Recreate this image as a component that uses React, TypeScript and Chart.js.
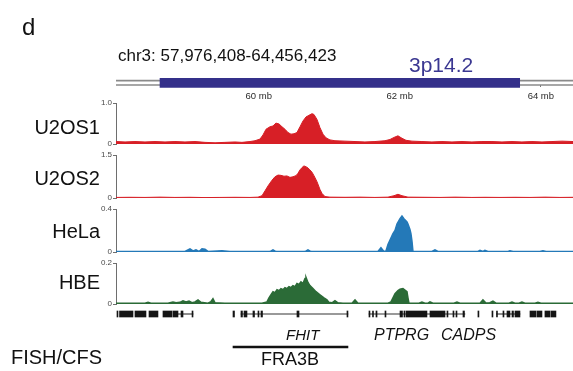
import React, { useEffect, useRef } from "react";
import { Chart, registerables } from "chart.js";

Chart.register(...registerables);

// ---------------- data (chr3, Mb) ----------------
const viewRange = [57.976, 64.456];
const bandRange = [58.6, 63.7]; // 3p14.2
const rulerTicks = [60, 62, 64];
const trackNames = ["U2OS1", "U2OS2", "HeLa", "HBE"];
const trackMax = [1.0, 1.5, 0.4, 0.2];

const u2os1Mb = [57.976, 58.104, 58.245, 58.387, 58.529, 58.671, 58.812, 58.954, 59.096, 59.238, 59.38, 59.521, 59.663, 59.762, 59.876, 59.947, 60.018, 60.06, 60.103, 60.159, 60.202, 60.244, 60.287, 60.33, 60.372, 60.415, 60.457, 60.5, 60.542, 60.585, 60.627, 60.67, 60.712, 60.755, 60.783, 60.826, 60.868, 60.911, 60.954, 61.01, 61.081, 61.223, 61.365, 61.506, 61.648, 61.79, 61.861, 61.917, 61.974, 62.031, 62.088, 62.173, 62.314, 62.456, 62.598, 62.74, 62.882, 63.023, 63.165, 63.307, 63.449, 63.591, 63.732, 63.874, 64.016, 64.158, 64.299, 64.456];
const u2os1Val = [0.06, 0.05, 0.06, 0.05, 0.06, 0.05, 0.06, 0.05, 0.06, 0.04, 0.03, 0.04, 0.05, 0.04, 0.06, 0.08, 0.12, 0.22, 0.36, 0.42, 0.44, 0.51, 0.49, 0.42, 0.36, 0.28, 0.24, 0.25, 0.28, 0.42, 0.56, 0.66, 0.7, 0.74, 0.72, 0.6, 0.4, 0.24, 0.15, 0.1, 0.08, 0.07, 0.06, 0.05, 0.06, 0.08, 0.11, 0.16, 0.2, 0.14, 0.09, 0.07, 0.06, 0.05, 0.06, 0.05, 0.06, 0.05, 0.06, 0.06, 0.05, 0.06, 0.05, 0.06, 0.05, 0.06, 0.07, 0.06];

const u2os2Mb = [57.976, 58.174, 58.387, 58.6, 58.812, 59.025, 59.238, 59.45, 59.663, 59.876, 59.989, 60.046, 60.089, 60.131, 60.188, 60.23, 60.273, 60.315, 60.358, 60.4, 60.443, 60.485, 60.528, 60.556, 60.585, 60.613, 60.641, 60.67, 60.698, 60.726, 60.755, 60.783, 60.826, 60.868, 60.897, 60.939, 61.01, 61.223, 61.436, 61.648, 61.832, 61.917, 61.974, 62.031, 62.116, 62.357, 62.57, 62.782, 63.023, 63.208, 63.421, 63.633, 63.846, 64.058, 64.271, 64.456];
const u2os2Val = [0.02, 0.025, 0.02, 0.03, 0.02, 0.025, 0.015, 0.02, 0.025, 0.02, 0.03, 0.08, 0.25, 0.42, 0.62, 0.74, 0.8, 0.79, 0.76, 0.77, 0.72, 0.74, 0.78, 0.86, 0.98, 1.06, 1.12, 1.09, 1.05, 0.98, 0.9, 0.78, 0.57, 0.3, 0.16, 0.05, 0.03, 0.025, 0.03, 0.02, 0.03, 0.08, 0.13, 0.08, 0.03, 0.025, 0.02, 0.03, 0.02, 0.025, 0.02, 0.025, 0.02, 0.03, 0.02, 0.025];

const helaMb = [57.976, 58.954, 59.025, 59.068, 59.11, 59.153, 59.195, 59.238, 59.28, 59.479, 59.592, 60.159, 60.202, 60.244, 60.656, 60.698, 60.741, 61.69, 61.733, 61.775, 61.804, 61.832, 61.861, 61.903, 61.932, 61.96, 62.003, 62.031, 62.059, 62.073, 62.102, 62.116, 62.144, 62.158, 62.173, 62.187, 62.456, 62.499, 62.541, 63.108, 63.137, 63.179, 63.207, 63.25, 63.534, 63.562, 63.605, 63.988, 64.03, 64.073, 64.456];
const helaVal = [0.005, 0.005, 0.03, 0.01, 0.02, 0.005, 0.03, 0.025, 0.005, 0.012, 0.004, 0.004, 0.02, 0.004, 0.004, 0.02, 0.004, 0.005, 0.04, 0.005, 0.01, 0.07, 0.11, 0.17, 0.2, 0.26, 0.31, 0.335, 0.31, 0.3, 0.28, 0.26, 0.21, 0.17, 0.1, 0.005, 0.005, 0.02, 0.005, 0.005, 0.015, 0.005, 0.015, 0.005, 0.005, 0.012, 0.005, 0.005, 0.012, 0.005, 0.005];

const hbeMb = [57.976, 58.316, 58.387, 58.43, 58.472, 58.713, 58.784, 58.827, 58.883, 58.926, 58.968, 59.011, 59.054, 59.096, 59.139, 59.181, 59.28, 59.323, 59.351, 59.38, 59.521, 60.046, 60.117, 60.145, 60.174, 60.202, 60.23, 60.259, 60.287, 60.315, 60.344, 60.372, 60.4, 60.429, 60.457, 60.485, 60.514, 60.542, 60.57, 60.599, 60.627, 60.656, 60.67, 60.698, 60.726, 60.769, 60.812, 60.868, 60.925, 60.967, 60.996, 61.038, 61.081, 61.123, 61.194, 61.322, 61.365, 61.407, 61.832, 61.875, 61.903, 61.932, 61.974, 62.003, 62.045, 62.073, 62.102, 62.116, 62.13, 62.272, 62.314, 62.357, 62.4, 62.428, 62.47, 62.768, 62.811, 62.853, 63.137, 63.179, 63.222, 63.278, 63.321, 63.364, 63.548, 63.591, 63.633, 63.69, 63.732, 63.775, 63.917, 63.959, 64.002, 64.456];
const hbeVal = [0.004, 0.004, 0.004, 0.008, 0.004, 0.004, 0.01, 0.006, 0.008, 0.016, 0.01, 0.014, 0.006, 0.01, 0.02, 0.008, 0.004, 0.012, 0.026, 0.006, 0.004, 0.004, 0.01, 0.03, 0.045, 0.06, 0.055, 0.07, 0.065, 0.075, 0.07, 0.08, 0.075, 0.085, 0.08, 0.09, 0.085, 0.1, 0.095, 0.108, 0.1, 0.125, 0.13, 0.105, 0.09, 0.075, 0.06, 0.045, 0.03, 0.02, 0.008, 0.006, 0.016, 0.006, 0.004, 0.004, 0.02, 0.004, 0.004, 0.01, 0.03, 0.05, 0.065, 0.072, 0.075, 0.068, 0.06, 0.03, 0.004, 0.004, 0.01, 0.004, 0.004, 0.01, 0.004, 0.004, 0.01, 0.004, 0.004, 0.02, 0.005, 0.006, 0.014, 0.004, 0.004, 0.01, 0.004, 0.004, 0.01, 0.004, 0.004, 0.008, 0.004, 0.004];

const geneExons = [
  [57.99, 58.004], [58.026, 58.217], [58.245, 58.401], [58.444, 58.571], [58.642, 58.77], [58.784, 58.855], [58.898, 58.926], [59.054, 59.068],
  [59.635, 59.656], [59.748, 59.769], [59.791, 59.833], [59.918, 59.94], [59.989, 60.003], [60.032, 60.053], [60.542, 60.571], [61.251, 61.265],
  [61.563, 61.577], [61.613, 61.627], [61.662, 61.677], [61.79, 61.804], [62.003, 62.038], [62.059, 62.073], [62.088, 62.385], [62.428, 62.641],
  [62.669, 62.683], [62.754, 62.768], [62.797, 62.811], [62.896, 62.917], [63.108, 63.122], [63.307, 63.321], [63.371, 63.385], [63.463, 63.477],
  [63.52, 63.562], [63.591, 63.612], [63.633, 63.704], [63.846, 63.931], [63.945, 64.016], [64.058, 64.129], [64.143, 64.214],
];
const geneIntrons = [[58.855, 59.068], [59.748, 61.265], [61.563, 62.924], [63.371, 63.704]];
const fishRegion = [59.635, 61.265]; // FRA3B
const geneLabels = ["FHIT", "PTPRG", "CADPS"];

// ---------------- styles / layout ----------------
const FONT = "'Liberation Sans', Arial, Helvetica, sans-serif";
const TRACK_COLORS = ["#d71f26", "#d71f26", "#2479b8", "#2b6b37"];
const TRACK_LINE_W = [1, 1, 1.5, 1.5];
const AXIS_W = 116;
const IDEO_H = 27, GAP_H = 11, GENE_H = 16, FISH_H = 32;
const TRACK_H = [41, 43, 43, 41];
const IDEO_LINE_A = 4.7, IDEO_LINE_B = 9, BAND_Y = 6.8, GENE_Y = 10, FISH_Y = 27;

const fixWidth = (s: any) => { s.width = AXIS_W; };

const pixelAxis = (weight: number, h: number) => ({
  type: "linear", position: "left", stack: "tracks", stackWeight: h, weight,
  min: 0, max: h, reverse: true, offset: false, afterFit: fixWidth,
  grid: { display: false, offset: false }, border: { display: false }, ticks: { display: false },
});

const trackAxis = (max: number, weight: number, h: number) => ({
  type: "linear", position: "left", stack: "tracks", stackWeight: h, weight,
  min: 0, max, offset: false, afterFit: fixWidth,
  afterBuildTicks: (s: any) => { s.ticks = [{ value: 0 }, { value: max }]; },
  grid: { drawOnChartArea: false, drawTicks: true, tickLength: 3, color: "#6e6e6e", lineWidth: 1 },
  border: { display: true, color: "#6e6e6e", width: 1 },
  ticks: {
    font: { size: 8, family: FONT }, color: "#4a4a4a", padding: 1, autoSkip: false,
    callback: (v: any) => (Number(v) === 0 ? "0" : Number(v).toFixed(1)),
  },
});

const pts = (xs: number[], ys: number[]) => xs.map((x, i) => ({ x, y: ys[i] }));
const hbar = (yAxisID: string, data: any[], color: string, thickness: number) => ({
  type: "bar", indexAxis: "y", xAxisID: "x", yAxisID, data, backgroundColor: color,
  barThickness: thickness, grouped: false, borderWidth: 0,
});

function TrackChart() {
  const ref = useRef<HTMLCanvasElement | null>(null);
  useEffect(() => {
    if (!ref.current) return;
    const trackIds = ["yU1", "yU2", "yHeLa", "yHBE"];
    const series = [[u2os1Mb, u2os1Val], [u2os2Mb, u2os2Val], [helaMb, helaVal], [hbeMb, hbeVal]];
    const lineSets = series.map(([xs, ys], i) => ({
      type: "line", label: trackNames[i], yAxisID: trackIds[i], xAxisID: "x",
      data: pts(xs as number[], ys as number[]),
      borderColor: TRACK_COLORS[i], backgroundColor: TRACK_COLORS[i],
      borderWidth: TRACK_LINE_W[i], pointRadius: 0, tension: 0, fill: "origin",
    }));
    const datasets: any[] = [
      hbar("yIdeo", [{ x: bandRange, y: BAND_Y }], "#34308a", 9),
      hbar("yIdeo", [{ x: viewRange, y: IDEO_LINE_A }, { x: viewRange, y: IDEO_LINE_B }], "#8a8a8a", 1),
      ...lineSets,
      hbar("yGene", geneExons.map((r) => ({ x: r, y: GENE_Y })), "#151515", 6),
      hbar("yGene", geneIntrons.map((r) => ({ x: r, y: GENE_Y })), "#777777", 1),
      hbar("yFish", [{ x: fishRegion, y: FISH_Y }], "#111111", 2),
    ];
    const chart = new Chart(ref.current, {
      type: "line",
      data: { datasets },
      options: {
        animation: false,
        responsive: false,
        maintainAspectRatio: false,
        devicePixelRatio: 1,
        layout: { padding: { top: 76, bottom: 19, left: 0, right: 0 } },
        plugins: { legend: { display: false }, tooltip: { enabled: false }, title: { display: false } },
        scales: {
          x: {
            type: "linear", min: viewRange[0], max: viewRange[1],
            position: { yIdeo: IDEO_LINE_B },
            afterBuildTicks: (s: any) => { s.ticks = rulerTicks.map((v) => ({ value: v })); },
            grid: { drawOnChartArea: false, drawTicks: true, tickLength: 2, color: "#777" },
            border: { display: false },
            ticks: {
              font: { size: 9.5, family: FONT }, color: "#2a2a2a", padding: 4, maxRotation: 0, autoSkip: false,
              callback: (v: any) => `${v} mb`,
            },
          },
          yIdeo: pixelAxis(10, IDEO_H),
          yU1: trackAxis(trackMax[0], 9, TRACK_H[0]),
          yGap1: pixelAxis(8, GAP_H),
          yU2: trackAxis(trackMax[1], 7, TRACK_H[1]),
          yGap2: pixelAxis(6, GAP_H),
          yHeLa: trackAxis(trackMax[2], 5, TRACK_H[2]),
          yGap3: pixelAxis(4, GAP_H),
          yHBE: trackAxis(trackMax[3], 3, TRACK_H[3]),
          yGene: pixelAxis(2, GENE_H),
          yFish: pixelAxis(1, FISH_H),
        } as any,
      } as any,
    });
    return () => chart.destroy();
  }, []);
  return (
    <canvas
      ref={ref}
      width={573}
      height={371}
      style={{ position: "absolute", left: 0, top: 0, width: 573, height: 371, display: "block" }}
    />
  );
}

const txt = (extra: React.CSSProperties): React.CSSProperties => ({
  position: "absolute", fontFamily: FONT, color: "#111", whiteSpace: "nowrap", margin: 0, ...extra,
});

export default function App() {
  const nameTops = [117, 168, 221, 272];
  return (
    <div style={{ position: "absolute", left: 0, top: 0, width: 573, height: 371, background: "#fff", overflow: "hidden" }}>
      <TrackChart />
      <div style={txt({ left: 22, top: 15, fontSize: 24, lineHeight: "24px" })}>d</div>
      <div style={txt({ left: 118, top: 47, fontSize: 17, lineHeight: "17px" })}>chr3: 57,976,408-64,456,423</div>
      <div style={txt({ left: 409, top: 54, fontSize: 21, lineHeight: "21px", color: "#3a3791" })}>3p14.2</div>
      {trackNames.map((n, i) => (
        <div key={n} style={txt({ left: 0, width: 100, textAlign: "right", top: nameTops[i], fontSize: 20, lineHeight: "20px" })}>{n}</div>
      ))}
      <div style={txt({ left: 11, top: 347, fontSize: 20, lineHeight: "20px" })}>FISH/CFS</div>
      <div style={txt({ left: 286, top: 327, fontSize: 15, lineHeight: "15px", fontStyle: "italic" })}>{geneLabels[0]}</div>
      <div style={txt({ left: 374, top: 327, fontSize: 16, lineHeight: "16px", fontStyle: "italic" })}>{geneLabels[1]}</div>
      <div style={txt({ left: 441, top: 327, fontSize: 16, lineHeight: "16px", fontStyle: "italic" })}>{geneLabels[2]}</div>
      <div style={txt({ left: 240, width: 100, textAlign: "center", top: 350, fontSize: 18, lineHeight: "18px" })}>FRA3B</div>
    </div>
  );
}
